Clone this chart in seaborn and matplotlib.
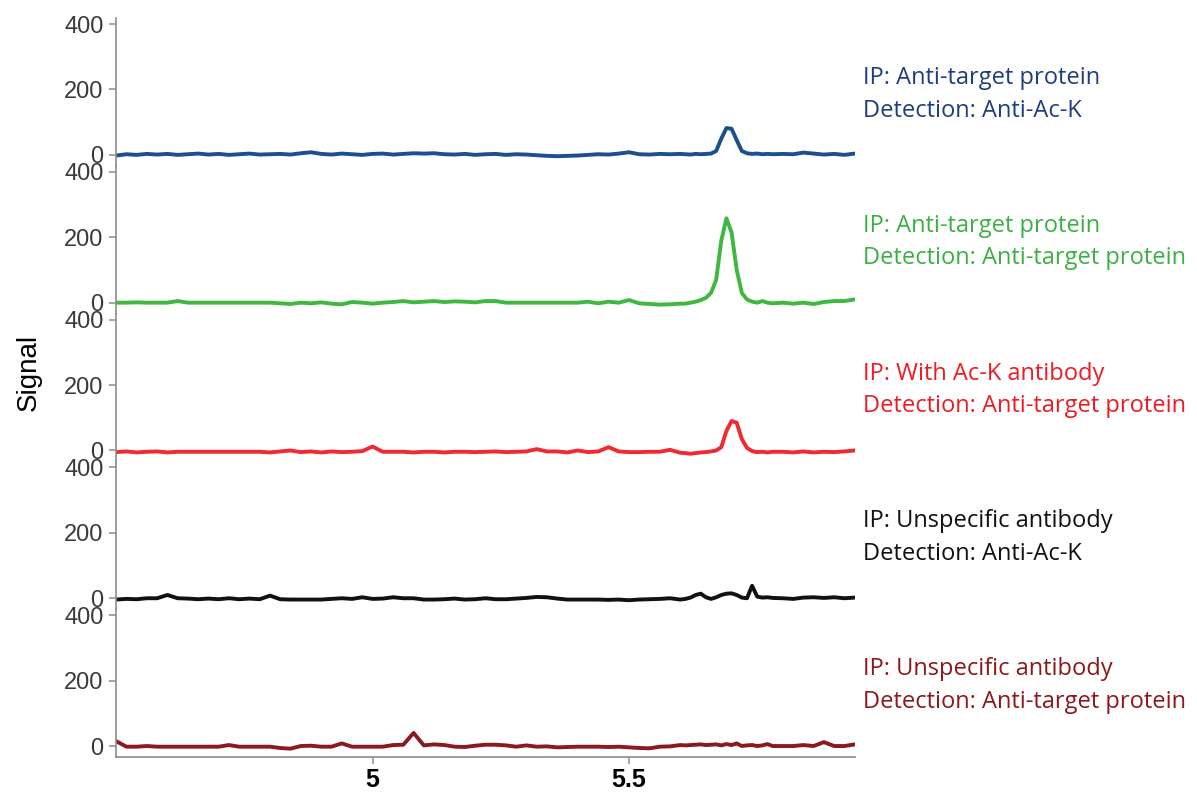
import numpy as np
import pandas as pd
import matplotlib
matplotlib.use("Agg")
import matplotlib.pyplot as plt
import seaborn as sns

sns.set_theme(style="white")
plt.rcParams['font.family'] = ['Liberation Sans', 'DejaVu Sans']

### Data ###

# time axis: 0.02 steps, finer (0.01) around the peak region
time = np.round(np.concatenate([np.arange(4.50, 5.601, 0.02),
                                np.arange(5.61, 5.781, 0.01),
                                np.arange(5.80, 5.941, 0.02)]), 2)

blue = [-2, 2, 0, 3, 1, 3, 0, 2, 4, 1, 3, 0, 2, 4, 1, 2, 3, 1, 5, 8,
        3, 1, 4, 2, 0, 3, 4, 1, 3, 5, 4, 5, 2, 1, 3, 0, 2, 3, 0, 2,
        1, -1, -3, -4, -3, -2, 0, 2, 1, 4, 8, 2, 1, 3, 2, 3,
        2, 1, 3, 2, 3, 4, 12, 50, 82, 80, 45, 12, 5, 3, 4, 2, 3, 2,
        3, 2, 7, 4, 1, 3, 0, 4]

green = [0, 0, 1, 0, 0, 0, 5, 0, 0, 0, 0, 0, 0, 0, 0, 0, -2, -4, 0, -2,
         1, -3, -5, 2, 0, -3, 0, 2, 5, 1, 3, 5, 2, 4, 3, 1, 5, 5, 0, 0,
         0, 0, 0, 0, 0, 0, 3, -2, 3, 0, 8, -2, -4, -6, -5, -3,
         -3, 0, 3, 8, 15, 30, 70, 190, 258, 215, 100, 30, 10, 3, 0, 5, 0, -2,
         0, -3, 0, -4, 2, 5, 5, 10]

red = [-5, -3, -6, -4, -3, -6, -4, -4, -4, -4, -4, -4, -4, -4, -4, -6, -3, 0, -5, -3,
       -6, -3, -5, -4, -2, 12, -4, -4, -4, -6, -4, -4, -6, -4, -4, -5, -4, -3, -5, -4,
       -3, 4, -3, -3, -6, 0, -5, -3, 10, -3, -5, -5, -4, -4, 2, -7,
       -8, -10, -8, -6, -5, -3, 0, 10, 60, 90, 85, 35, 8, -2, -5, -4, -6, -4,
       -4, -6, -3, -6, -4, -5, -3, 0]

black = [-4, -2, -3, 0, 0, 10, 0, -1, -3, -1, -3, 0, -3, -1, -3, 8, -3, -4, -4, -4,
         -4, -2, 0, -2, 3, -2, -1, 3, 0, 0, -4, -4, -3, -1, -4, -3, 0, -3, -3, -1,
         1, 4, 3, -1, -4, -4, -4, -4, -5, -4, -6, -4, -3, -2, 0, -4,
         -2, 2, 10, 14, 3, -2, 3, 10, 14, 15, 10, 2, 0, 38, 5, 2, 3, 1,
         0, -2, 2, 3, 1, 3, 0, 2]

darkred = [15, -2, -2, 0, -2, -2, -2, -2, -2, -2, -2, 3, -2, -2, -2, -2, -6, -8, 0, 1,
           -2, -2, 8, -2, -2, -2, -2, 3, 4, 40, 2, 5, 3, -2, -3, 1, 4, 4, 2, -2,
           2, -2, -1, -4, -3, -2, -2, -2, -3, -2, -4, -6, -7, -2, -1, 3,
           2, 3, 4, 5, 3, 4, 5, 2, 6, 3, 8, 0, 2, 3, 0, 2, 6, 0,
           0, 0, 3, 0, 12, 0, 0, 5]

series = [blue, green, red, black, darkred]
line_colors = ['#1d4f8e', '#3fb83f', '#ef2a30', '#111111', '#8a1a1f']
text_colors = ['#1f3f7c', '#3cb043', '#ed1c24', '#111111', '#8b1a1e']
labels_ip = ["IP: Anti-target protein", "IP: Anti-target protein", "IP: With Ac-K antibody",
             "IP: Unspecific antibody", "IP: Unspecific antibody"]
labels_det = ["Detection: Anti-Ac-K", "Detection: Anti-target protein",
              "Detection: Anti-target protein", "Detection: Anti-Ac-K",
              "Detection: Anti-target protein"]

### Figure ###

fig, axes = plt.subplots(5, 1, sharex=True, figsize=(11.97, 7.92), dpi=100)
fig.subplots_adjust(left=0.097, right=0.714, top=0.977, bottom=0.044, hspace=0)

for i, ax in enumerate(axes):
    df = pd.DataFrame({"Time": time, "Signal": series[i]})
    sns.lineplot(data=df, x="Time", y="Signal", ax=ax, color=line_colors[i],
                 linewidth=2.8)
    ax.set_ylim(-34, 418)
    ax.set_xlim(4.5, 5.94)
    ax.set_yticks([0, 200, 400])
    ax.set_ylabel("")
    ax.set_xlabel("")
    for side in ['top', 'right', 'bottom']:
        ax.spines[side].set_visible(False)
    ax.spines['left'].set_color('#8c8c8c')
    ax.spines['left'].set_linewidth(1.2)
    ax.tick_params(axis='y', left=True, length=5, width=1.1, color='#8c8c8c',
                   labelsize=17, labelcolor='#3a3a3a', pad=4)
    ax.tick_params(axis='x', bottom=False, labelbottom=False)
    ax.set_facecolor('none')
    ax.text(1.011, 0.595, labels_ip[i], transform=ax.transAxes, color=text_colors[i],
            fontsize=17, family='Open Sans', va='center', ha='left')
    ax.text(1.011, 0.375, labels_det[i], transform=ax.transAxes, color=text_colors[i],
            fontsize=17, family='Open Sans', va='center', ha='left')

last = axes[-1]
last.spines['bottom'].set_visible(True)
last.spines['bottom'].set_color('#8c8c8c')
last.spines['bottom'].set_linewidth(1.2)
last.set_xticks([5, 5.5])
last.set_xticklabels(["5", "5.5"])
last.tick_params(axis='x', bottom=True, labelbottom=True, length=5, width=1.1,
                 color='#8c8c8c', labelsize=18, labelcolor='black', pad=3)
for lab in last.get_xticklabels():
    lab.set_fontweight('bold')

fig.text(0.024, 0.53, "Signal", rotation=90, fontsize=20, va='center', ha='center',
         color='black')

plt.savefig("out.png", dpi=100)
